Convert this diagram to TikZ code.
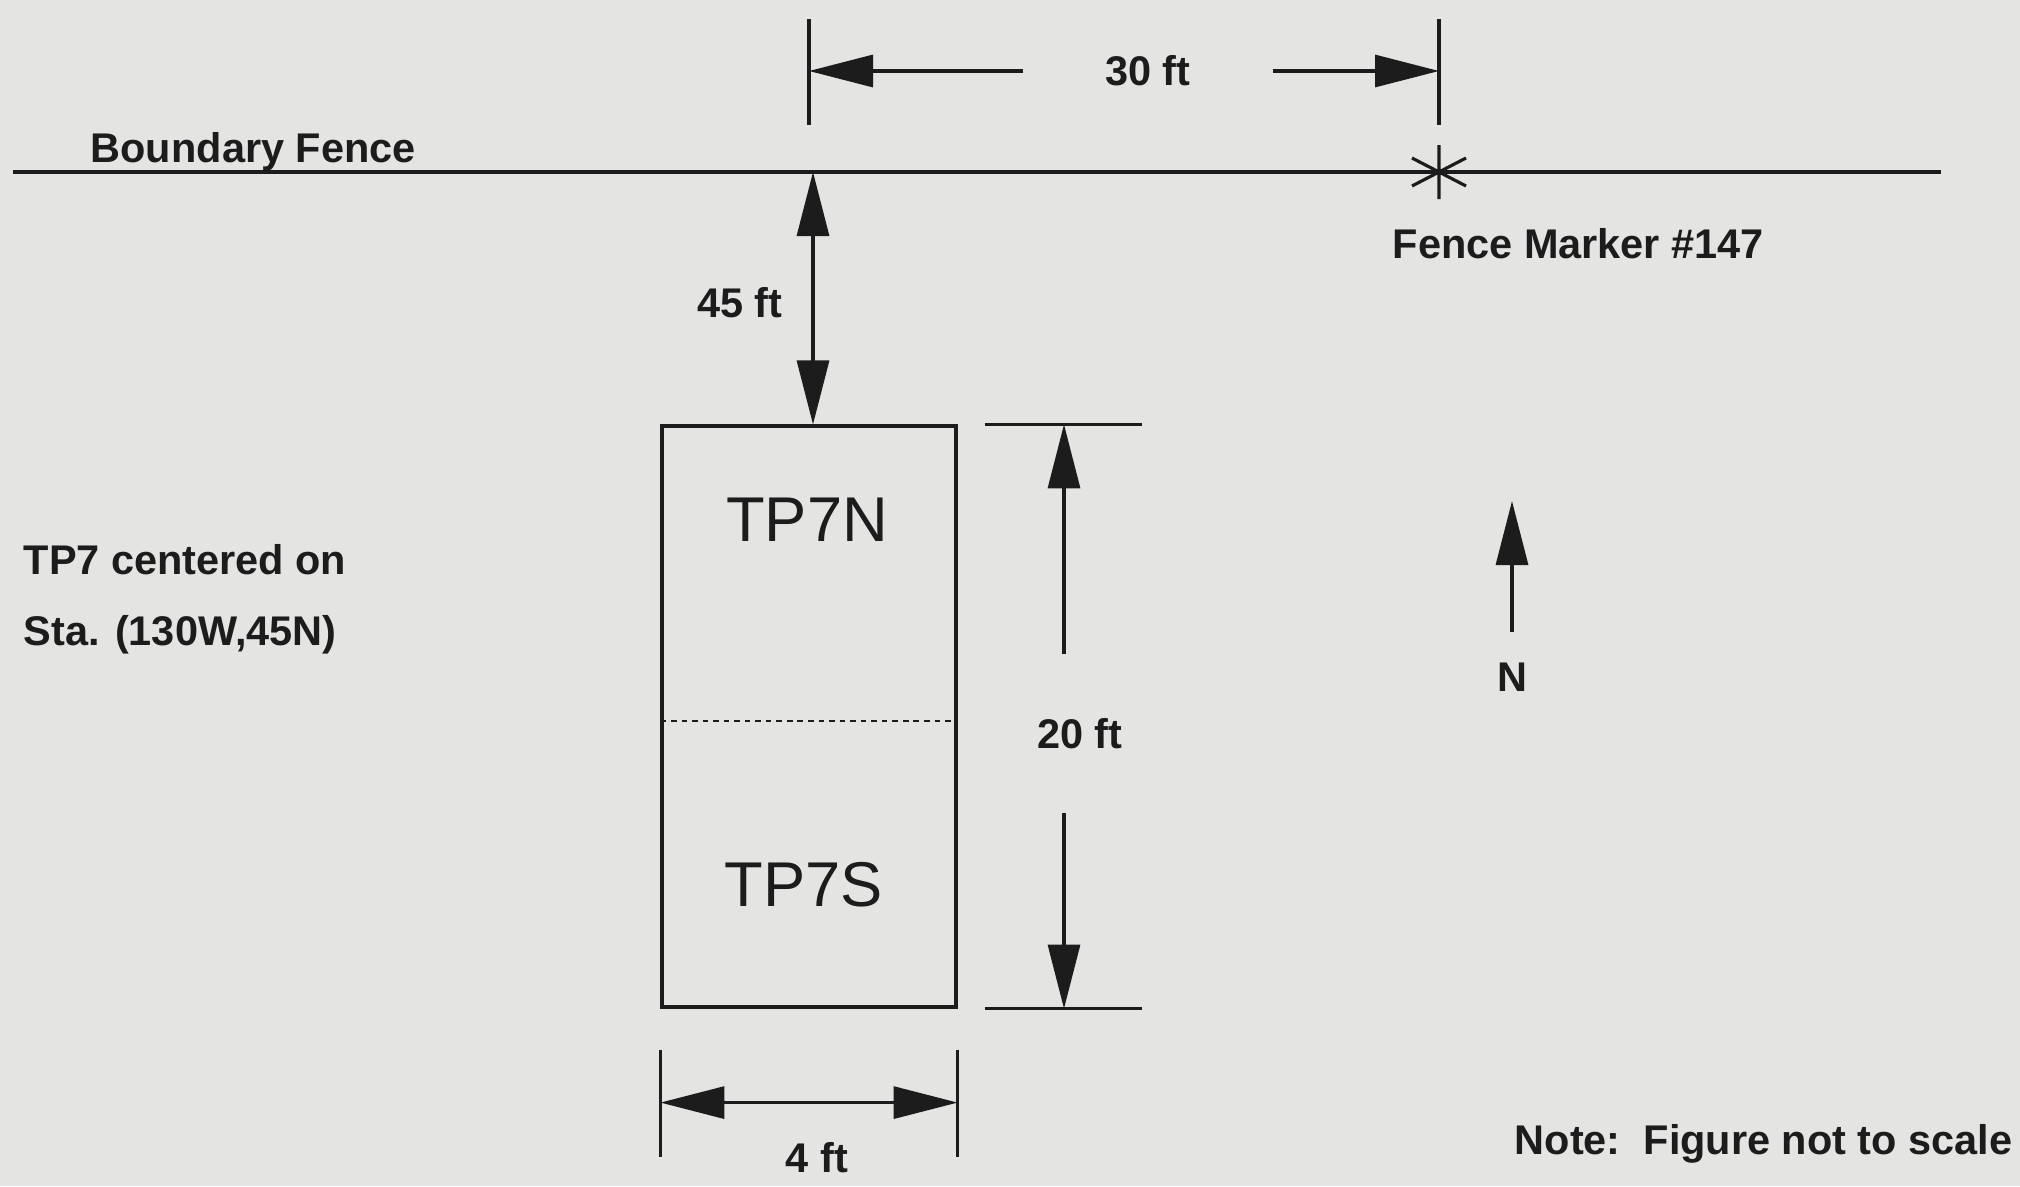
\documentclass[tikz,border=0pt]{standalone}
\usepackage{fontspec}
\setmainfont{Liberation Sans}
\usepackage{tikz}
\usetikzlibrary{positioning, arrows.meta, calc}
\definecolor{paper}{HTML}{E4E4E2}
\definecolor{ink}{HTML}{1C1C1C}
\tikzset{
  lbl/.style={font=\bfseries\fontsize{11.8}{17.4}\selectfont, text=ink, inner sep=0pt},
  big/.style={font=\fontsize{18}{21}\selectfont, text=ink, inner sep=0pt},
  line/.style={line width=0.9pt, draw=ink},
  dimA/.style={line, -{Triangle[length=6.4mm, width=3.2mm]}},
  dimB/.style={line, {Triangle[length=6.4mm, width=3.2mm]}-{Triangle[length=6.4mm, width=3.2mm]}},
}

\begin{document}
\begin{tikzpicture}
  % paper
  \fill[paper] (0,0) rectangle (20.2,-11.86);
  \useasboundingbox (0,0) rectangle (20.2,-11.86);
  % the fence
  \coordinate (fw) at (0.13,-1.72);
  \coordinate (fe) at (19.41,-1.72);
  \draw[line] (fw) -- (fe);
  \node[lbl, anchor=base west] (fence) at (0.90,-1.62) {Boundary Fence};
  % fence marker
  \coordinate (mk) at (14.39,-1.72);
  \draw[line] ($(mk)+(0,0.27)$) -- ($(mk)+(0,-0.27)$)
    ($(mk)+(-0.27,0.14)$) -- ($(mk)+(0.27,-0.14)$)
    ($(mk)+(-0.27,-0.14)$) -- ($(mk)+(0.27,0.14)$);
  \node[lbl, anchor=west] (mklbl) at (13.92,-2.44) {Fence Marker \#147};
  % test pit
  \node[line, minimum width=2.94cm, minimum height=5.81cm, inner sep=0pt] (pit) at (8.09,-7.165) {};
  \draw[ink, line width=0.5pt, dash pattern=on 1.6pt off 1.4pt]
    (pit.west |- 0,-7.21) -- (pit.east |- 0,-7.21);
  \node[big] (tpn) at (8.07,-5.20) {TP7N};
  \node[big] (tps) at (8.04,-8.85) {TP7S};
  % 30 ft
  \coordinate (a30) at (8.09,-0.71);
  \coordinate (b30) at (14.39,-0.71);
  \draw[line] ($(a30)+(0,0.52)$) -- ($(a30)+(0,-0.54)$);
  \draw[line] ($(b30)+(0,0.52)$) -- ($(b30)+(0,-0.54)$);
  \node[lbl, minimum width=2.48cm] (d30) at (11.48,-0.71) {30 ft};
  \draw[dimA] (d30.west) -- (a30);
  \draw[dimA] (d30.east) -- (b30);
  % 45 ft
  \coordinate (f45) at (8.13,-1.72);
  \draw[dimB] (f45) -- (f45 |- pit.north);
  \node[lbl] (d45) at (7.40,-3.03) {45 ft};
  % 20 ft
  \draw[line] ($(pit.north east)+(0.27,0)$) -- ++(1.57,0);
  \draw[line] ($(pit.south east)+(0.27,0)$) -- ++(1.57,0);
  \coordinate (c20) at (10.64,-7.335);
  \node[lbl, minimum height=1.57cm] (d20) at (10.80,-7.335) {20 ft};
  \draw[dimA] (c20 |- d20.north) -- (c20 |- pit.north);
  \draw[dimA] (c20 |- d20.south) -- (c20 |- pit.south);
  % 4 ft
  \draw[line] ($(pit.south west)+(0,-0.41)$) -- ++(0,-1.07);
  \draw[line] ($(pit.south east)+(0,-0.41)$) -- ++(0,-1.07);
  \coordinate (w4) at ($(pit.south west)+(0,-0.94)$);
  \coordinate (e4) at ($(pit.south east)+(0,-0.94)$);
  \draw[dimB] (w4) -- (e4);
  \node[lbl] (d4) at (8.17,-11.58) {4 ft};
  % north arrow
  \coordinate (nt) at (15.12,-6.32);
  \draw[dimA] (nt) -- ++(0,1.31);
  \node[lbl, below=0.30 of nt] (nlbl) {N};
  % station and note
  \node[lbl, anchor=base west] (cent) at (0.23,-5.74) {TP7 centered on};
  \node[lbl, anchor=base west] (sta) at (0.23,-6.45) {Sta. (130W,45N)};
  \node[lbl, anchor=west] (note) at (15.14,-11.44) {Note:\ \ Figure not to scale};
\end{tikzpicture}
\end{document}
